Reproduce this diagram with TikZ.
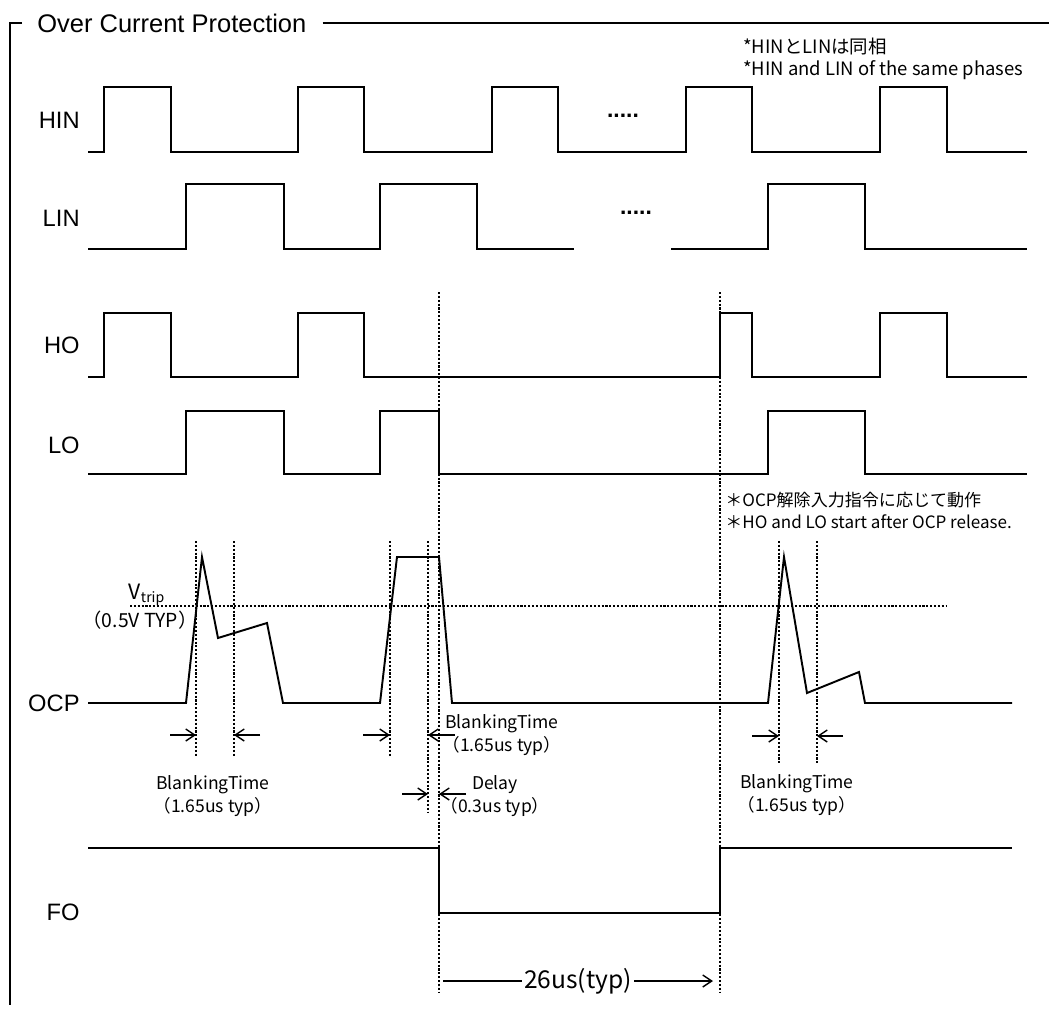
\documentclass[tikz,border=0pt]{standalone}
\usepackage{fontspec}
\setmainfont{Liberation Sans}
\newfontfamily\jpfont{Noto Sans CJK JP}
\usetikzlibrary{arrows.meta}

\begin{document}
\begin{tikzpicture}[
  x=0.02cm, y=-0.02cm,
  >={Straight Barb[length=1.8mm, width=2.4mm]},
  wave/.style={line width=1.1pt, line join=miter},
  guide/.style={line width=0.8pt, dash pattern=on 1.2pt off 1pt},
  frame/.style={line width=1.1pt},
  sig/.style={font=\fontsize{13.5}{14}\selectfont, anchor=east, inner sep=0pt},
  note/.style={font=\jpfont\fontsize{10.5}{11}\selectfont, anchor=west, inner sep=0pt},
  lbl/.style={font=\jpfont\fontsize{10}{13}\selectfont, align=center, inner sep=0pt},
  dots/.style={font=\bfseries\fontsize{13}{14}\selectfont, inner sep=0pt},
  dim/.style={->, line width=0.8pt},
]
\useasboundingbox (0,0) rectangle (1049,1021);

% ---- Frame and title ----
\node[anchor=west, inner sep=0pt, font=\fontsize{14.5}{15}\selectfont] (title) at (37,23) {Over Current Protection};
\draw[frame] (22,23) -- (10,23) -- (10,1005);
\draw[frame] (title.east) ++(16,0) -- (1049,23);

% ---- Signal names ----
\node[sig] (nHIN) at (80,120) {HIN};
\node[sig] (nLIN) at (80,218) {LIN};
\node[sig] (nHO)  at (80,345) {HO};
\node[sig] (nLO)  at (80,445) {LO};
\node[sig] (nOCP) at (80,703) {OCP};
\node[sig] (nFO)  at (80,912) {FO};

% ---- Input waveforms ----
\draw[wave] (88,152) -- (104,152) -- (104,87) -- (171,87) -- (171,152) -- (298,152) -- (298,87)
  -- (364,87) -- (364,152) -- (492,152) -- (492,87) -- (558,87) -- (558,152) -- (686,152)
  -- (686,87) -- (752,87) -- (752,152) -- (880,152) -- (880,87) -- (947,87) -- (947,152) -- (1027,152);
\draw[wave] (88,249) -- (186,249) -- (186,184) -- (284,184) -- (284,249) -- (380,249) -- (380,184)
  -- (477,184) -- (477,249) -- (574,249);
\draw[wave] (671,249) -- (768,249) -- (768,184) -- (865,184) -- (865,249) -- (1027,249);
\node[dots] (gapHIN) at (623,116) {.....};
\node[dots] (gapLIN) at (636,213) {.....};

% ---- Output waveforms ----
\draw[wave] (88,377) -- (104,377) -- (104,313) -- (171,313) -- (171,377) -- (298,377) -- (298,313)
  -- (364,313) -- (364,377) -- (720,377) -- (720,313) -- (752,313) -- (752,377) -- (880,377)
  -- (880,313) -- (947,313) -- (947,377) -- (1027,377);
\draw[wave] (88,474) -- (186,474) -- (186,411) -- (284,411) -- (284,474) -- (380,474) -- (380,411)
  -- (439,411) -- (439,474) -- (768,474) -- (768,411) -- (865,411) -- (865,474) -- (1027,474);

% ---- OCP waveform and trip level ----
\draw[wave] (88,703) -- (186,703) -- (202,557) -- (218,638) -- (267,623) -- (283,703) -- (380,703)
  -- (397,557) -- (439,557) -- (452,703) -- (768,703) -- (784,557) -- (807,693) -- (859,672)
  -- (865,703) -- (1012,703);
\draw[guide] (130,606) -- (947,606);
\node[lbl, font=\jpfont\fontsize{12}{13}\selectfont] (vtrip) at (147,595) {V\textsubscript{trip}};
\node[lbl, font=\jpfont\fontsize{11}{12}\selectfont] (vtyp) at (140,620) {（0.5V TYP）};

% ---- FO waveform ----
\draw[wave] (88,848) -- (439,848) -- (439,913) -- (720,913) -- (720,848) -- (1012,848);

% ---- Timing guides ----
\draw[guide] (196,541) -- (196,757);
\draw[guide] (234,541) -- (234,757);
\draw[guide] (390,541) -- (390,757);
\draw[guide] (428,541) -- (428,813);
\draw[guide] (439,292) -- (439,992);
\draw[guide] (720,292) -- (720,992);
\draw[guide] (779,541) -- (779,765);
\draw[guide] (817,541) -- (817,765);

% ---- Blanking / delay markers ----
\draw[dim] (170,735) -- (196,735);
\draw[dim] (260,735) -- (234,735);
\draw[dim] (363,735) -- (390,735);
\draw[dim] (455,735) -- (428,735);
\draw[dim] (752,736) -- (779,736);
\draw[dim] (843,736) -- (817,736);
\draw[dim] (402,794) -- (428,794);
\draw[dim] (466,794) -- (439,794);

\node[lbl] (blank1) at (213,796) {BlankingTime\\（1.65us typ）};
\node[lbl] (blank2) at (502,735) {BlankingTime\\（1.65us typ）};
\node[lbl] (delay)  at (495,796) {Delay\\（0.3us typ）};
\node[lbl] (blank3) at (797,795) {BlankingTime\\（1.65us typ）};

% ---- Fault output width ----
\draw[dim] (443,981) -- node[fill=white, inner sep=1pt, font=\jpfont\fontsize{14}{15}\selectfont] (fowidth) {26us(typ)} (713,981);

% ---- Notes ----
\node[note] (noteJa1) at (743,47) {*HINとLINは同相};
\node[note] (noteEn1) at (743,70) {*HIN and LIN of the same phases};
\node[note, font=\jpfont\fontsize{9.7}{10}\selectfont] (noteJa2) at (725,500) {＊OCP解除入力指令に応じて動作};
\node[note, font=\jpfont\fontsize{9.7}{10}\selectfont] (noteEn2) at (725,522) {＊HO and LO start after OCP release.};
\end{tikzpicture}
\end{document}
